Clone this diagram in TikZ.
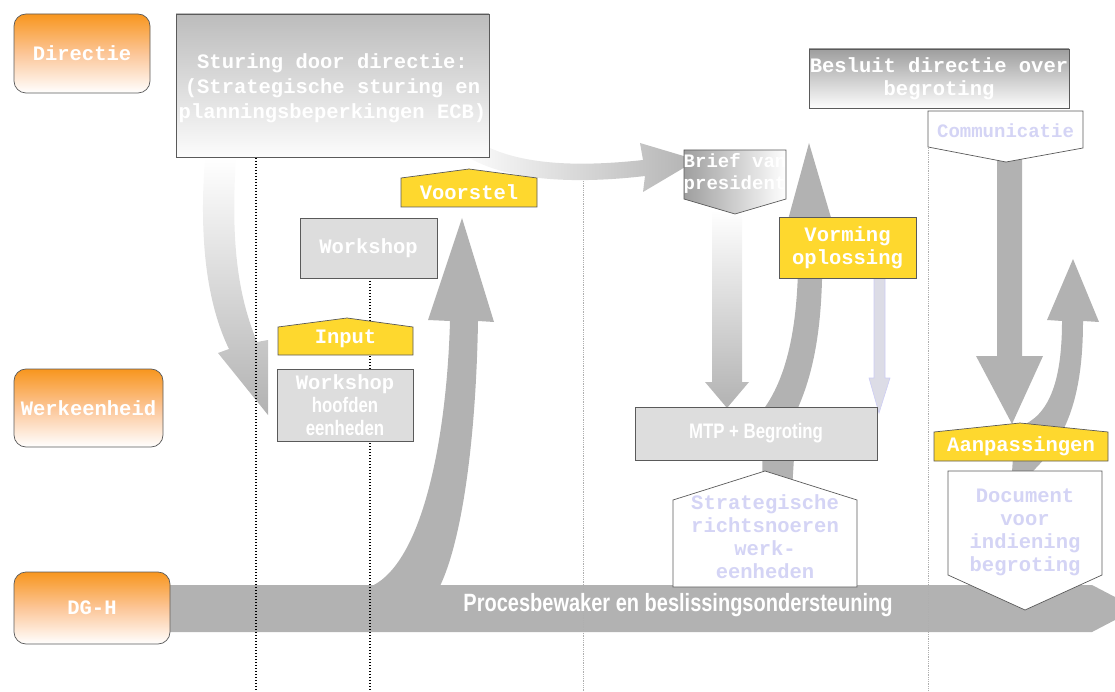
\documentclass[tikz,border=0pt]{standalone}
\usepackage{fontspec}
\newfontfamily\monofam{Liberation Mono}
\newfontfamily\narrowfam[FakeStretch=0.8]{Liberation Sans}
\newcommand\monobig{\monofam\bfseries\fontsize{20.5}{23}\selectfont}
\newcommand\monosmall{\monofam\bfseries\fontsize{19}{22}\selectfont}
\newcommand\narrowb{\narrowfam\bfseries\fontsize{21}{23}\selectfont}
\newcommand\narrowbig{\narrowfam\bfseries\fontsize{25}{28}\selectfont}
\definecolor{arrowgray}{RGB}{178,178,178}
\definecolor{boxgray}{RGB}{221,221,221}
\definecolor{bordergray}{RGB}{90,90,90}
\definecolor{laneor}{RGB}{248,150,30}
\definecolor{lanemid}{RGB}{252,198,152}
\definecolor{yel}{RGB}{254,216,46}
\definecolor{gradtop}{RGB}{188,188,188}
\definecolor{gradbot}{RGB}{252,252,252}
\definecolor{brieftop}{RGB}{158,158,158}
\definecolor{lavtext}{RGB}{212,212,245}
\definecolor{lavfill}{RGB}{220,220,230}
\definecolor{lavedge}{RGB}{205,205,245}
\definecolor{dotgray}{RGB}{175,175,175}
\tikzset{
  lane/.style={draw=bordergray, line width=0.7pt, rounded corners=12pt,
    top color=laneor, bottom color=white, middle color=lanemid,
    font=\monobig, text=white, inner sep=0pt},
  graybox/.style={draw=bordergray, line width=0.7pt, fill=boxgray, text=white,
    font=\monobig, align=center, inner sep=0pt},
  yelshape/.style={draw=bordergray, line width=0.7pt, fill=yel},
  whiteshape/.style={draw=bordergray, line width=0.7pt, fill=white},
  outline/.style={draw=bordergray, line width=0.7pt},
  lbl/.style={font=\monobig, text=white, align=center, inner sep=0pt},
  lavlbl/.style={font=\monobig, text=lavtext, align=center, inner sep=0pt},
  bigarrow/.style={fill=arrowgray},
  blackdots/.style={line width=1.3pt, dash pattern=on 1.3pt off 1.7pt, draw=black},
  greydots/.style={line width=0.6pt, dash pattern=on 0.6pt off 1.2pt, draw=dotgray}
}
\begin{document}
\begin{tikzpicture}[x=1pt,y=-1pt]
\useasboundingbox (0,0) rectangle (1115,692);

% main process band
\fill[bigarrow] (165,585) -- (1092,585) -- (1115,597) -- (1115,620) -- (1092,632) -- (165,632) -- cycle;

% Voorstel upward arrow rising out of the band
\fill[bigarrow] (372,586) .. controls (425,560) and (447,430) .. (450,321) -- (428,320) -- (462,218)
  -- (494,322) -- (478,321) .. controls (476,440) and (462,540) .. (440,586) -- cycle;

% left curved arrow (directie -> werkeenheid)
\shade[top color=white, bottom color=arrowgray] (205,158) .. controls (198,250) and (210,310) .. (229,349)
  -- (218,353) -- (268,415) -- (268,340) -- (257,342) .. controls (240,300) and (230,250) .. (236,158) -- cycle;

% top curved arrow (sturing -> brief)
\shade[left color=white, right color=arrowgray] (462,130) .. controls (500,165) and (570,168) .. (643,160)
  -- (640,143) -- (697,160) -- (643,192) -- (645,176) .. controls (560,186) and (490,178) .. (455,148) -- cycle;

% brief -> MTP arrow
\shade[top color=white, bottom color=arrowgray] (712,210) -- (742,210) -- (742,382) -- (749,382)
  -- (727,408) -- (705,382) -- (712,382) -- cycle;

% MTP upward curved arrow
\fill[bigarrow] (762,490) -- (763,410) .. controls (785,380) and (800,330) .. (798,238) -- (783,238)
  -- (809,143) -- (837,238) -- (822,238) .. controls (824,320) and (815,370) .. (797,410) -- (792,490) -- cycle;

% thin lavender arrow below Vorming
\filldraw[fill=lavfill, draw=lavedge, line width=0.6pt] (874,278) -- (885,278) -- (885,378) -- (890,378)
  -- (879,413) -- (869,378) -- (874,378) -- cycle;

% Communicatie -> Aanpassingen arrow
\fill[bigarrow] (997,158) -- (1022,158) -- (1022,356) -- (1043,356) -- (1012,424) -- (976,356) -- (997,356) -- cycle;

% right curved upward arrow
\fill[bigarrow] (1047,320) -- (1073,259) -- (1099,322) -- (1083,321) .. controls (1083,400) and (1065,440) .. (1032,472)
  -- (1012,472) -- (1015,428) .. controls (1045,420) and (1062,390) .. (1062,321) -- cycle;

% dotted separators
\draw[blackdots] (256,158) -- (256,692);
\draw[blackdots] (370,278) -- (370,692);
\draw[greydots] (583,181) -- (583,692);
\draw[greydots] (928,148) -- (928,692);

% lane labels
\node[lane, minimum width=136pt, minimum height=79pt] (directie) at (82,53.5) {Directie};
\node[lane, minimum width=149pt, minimum height=78pt] (werk) at (88.5,408) {Werkeenheid};
\node[lane, minimum width=156pt, minimum height=72pt] (dgh) at (92,608) {DG-H};

% band text
\node[font=\narrowbig, text=white, inner sep=0pt] (proces) at (678,605) {Procesbewaker en beslissingsondersteuning};

% gradient boxes
\shade[top color=gradtop, bottom color=gradbot] (176,14) rectangle (489,157);
\draw[outline] (176,14) rectangle (489,157);
\node[lbl] (sturing) at (332.5,88)
  {Sturing door directie:\\[2pt](Strategische sturing en\\[2pt]planningsbeperkingen ECB)};
\shade[top color=brieftop, bottom color=gradbot] (809,49) rectangle (1069,108);
\draw[outline] (809,49) rectangle (1069,108);
\node[lbl] (besluit) at (939,78.5) {Besluit directie over\\begroting};

% grey and yellow boxes
\node[graybox, minimum width=137pt, minimum height=60pt] (workshop) at (368.5,248) {Workshop};
\node[graybox, minimum width=136pt, minimum height=72pt] (hoofden) at (345,405)
  {Workshop\\{\narrowb hoofden}\\{\narrowb eenheden}};
\node[graybox, font=\narrowb, minimum width=242pt, minimum height=53pt] (mtp) at (756,433.5) {MTP + Begroting};
\node[graybox, fill=yel, minimum width=137pt, minimum height=61pt] (vorming) at (847.5,247.5) {Vorming\\oplossing};

% pentagon shapes
\filldraw[yelshape] (401,207) -- (401,178) -- (469,169) -- (537,178) -- (537,207) -- cycle;
\node[lbl] (voorstel) at (469,192) {Voorstel};
\filldraw[yelshape] (278,355) -- (278,327) -- (347,318) -- (413,327) -- (413,355) -- cycle;
\node[lbl] (input) at (345.5,339) {Input};
\shade[left color=brieftop, right color=white]
  (684,150) -- (786,150) -- (786,199) -- (735,214) -- (684,199) -- cycle;
\draw[outline] (684,150) -- (786,150) -- (786,199) -- (735,214) -- (684,199) -- cycle;
\node[lbl, font=\monosmall] (brief) at (735,173) {Brief van\\president};
\filldraw[whiteshape] (928,111) -- (1083,111) -- (1083,148) -- (1006,162) -- (928,147) -- cycle;
\node[lavlbl, font=\monosmall] (communicatie) at (1005.5,131) {Communicatie};
\filldraw[whiteshape] (673,587) -- (673,500) -- (765,471) -- (857,500) -- (857,587) -- cycle;
\node[lavlbl] (strategische) at (765,537) {Strategische\\richtsnoeren\\werk-\\eenheden};
\filldraw[yelshape] (934,461) -- (934,432) -- (1020,423) -- (1108,432) -- (1108,461) -- cycle;
\node[lbl] (aanpassingen) at (1021,446) {Aanpassingen};
\filldraw[whiteshape] (948,471) -- (1102,471) -- (1102,575) -- (1025,610) -- (948,575) -- cycle;
\node[lavlbl] (document) at (1025,532) {Document\\voor\\indiening\\begroting};
\end{tikzpicture}
\end{document}
